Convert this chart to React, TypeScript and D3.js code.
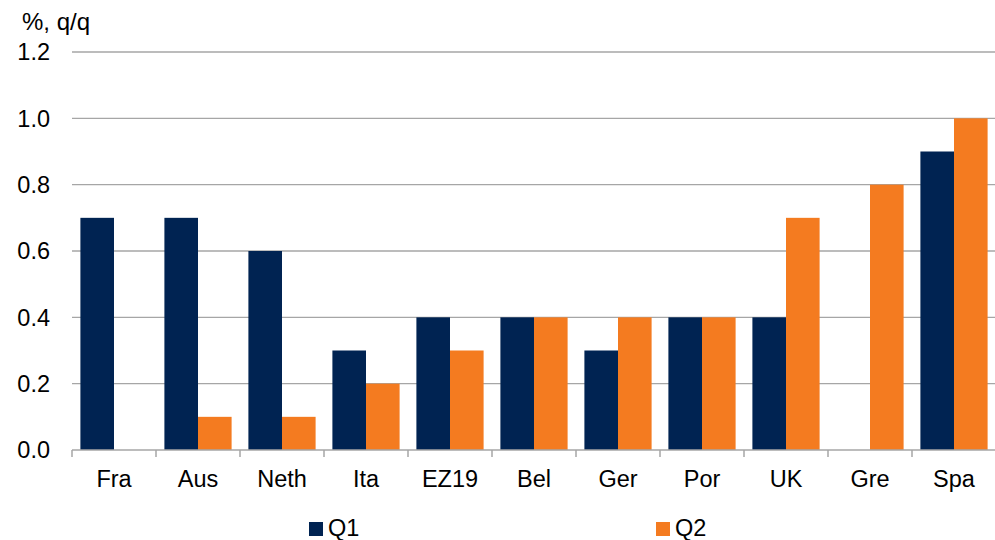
import React from "react";
import * as d3 from "d3";

const categories = ["Fra", "Aus", "Neth", "Ita", "EZ19", "Bel", "Ger", "Por", "UK", "Gre", "Spa"];
const seriesNames = ["Q1", "Q2"];
const q1Values: (number | null)[] = [0.7, 0.7, 0.6, 0.3, 0.4, 0.4, 0.3, 0.4, 0.4, null, 0.9];
const q2Values: (number | null)[] = [null, 0.1, 0.1, 0.2, 0.3, 0.4, 0.4, 0.4, 0.7, 0.8, 1.0];
const yTicks = [0, 0.2, 0.4, 0.6, 0.8, 1.0, 1.2];
const colors = ["#002352", "#F47B20"];
const unitLabel = "%, q/q";

const W = 995;
const H = 540;
const left = 72;
const right = 996;
const top = 52;
const bottom = 450;
const FONT = "'Liberation Sans', Arial, sans-serif";
const FS = 23.5;

export default function App() {
  const x0 = d3.scaleBand<string>().domain(categories).range([left, right]).padding(0);
  const x1 = d3
    .scaleBand<string>()
    .domain(seriesNames)
    .range([0, x0.bandwidth()])
    .paddingInner(0)
    .paddingOuter(0.25);
  const y = d3.scaleLinear().domain([0, 1.2]).range([bottom, top]);
  const allSeries = [q1Values, q2Values];

  const legendX = [309, 656];

  return (
    <svg
      width={W}
      height={H}
      style={{ position: "absolute", left: 0, top: 0, background: "#fff" }}
      fontFamily={FONT}
    >
      <text x={22} y={30} fontSize={24} fill="#000">
        {unitLabel}
      </text>
      {yTicks.map((t) => (
        <g key={t}>
          {t > 0 && (
            <line x1={left} x2={right} y1={y(t)} y2={y(t)} stroke="#A6A6A6" strokeWidth={1.3} />
          )}
          <text
            x={50}
            y={y(t)}
            dy="0.36em"
            textAnchor="end"
            fontSize={FS}
            fill="#000"
          >
            {d3.format(".1f")(t)}
          </text>
        </g>
      ))}
      {categories.map((c, i) => (
        <g key={c}>
          {allSeries.map((s, si) => {
            const v = s[i];
            if (v === null || v === undefined) return null;
            return (
              <rect
                key={si}
                x={(x0(c) as number) + (x1(seriesNames[si]) as number)}
                y={y(v)}
                width={x1.bandwidth()}
                height={y(0) - y(v)}
                fill={colors[si]}
              />
            );
          })}
        </g>
      ))}
      <line x1={left} x2={right} y1={y(0)} y2={y(0)} stroke="#A6A6A6" strokeWidth={1.5} />
      {categories.map((c) => (
        <line
          key={"t" + c}
          x1={x0(c) as number}
          x2={x0(c) as number}
          y1={y(0)}
          y2={y(0) + 7}
          stroke="#A6A6A6"
          strokeWidth={1.5}
        />
      ))}
      {categories.map((c) => (
        <text
          key={"l" + c}
          x={(x0(c) as number) + x0.bandwidth() / 2}
          y={487}
          textAnchor="middle"
          fontSize={FS}
          fill="#000"
        >
          {c}
        </text>
      ))}
      {seriesNames.map((n, i) => (
        <g key={n}>
          <rect x={legendX[i]} y={522} width={14} height={14} fill={colors[i]} />
          <text x={legendX[i] + 19} y={536} fontSize={FS} fill="#000">
            {n}
          </text>
        </g>
      ))}
    </svg>
  );
}
